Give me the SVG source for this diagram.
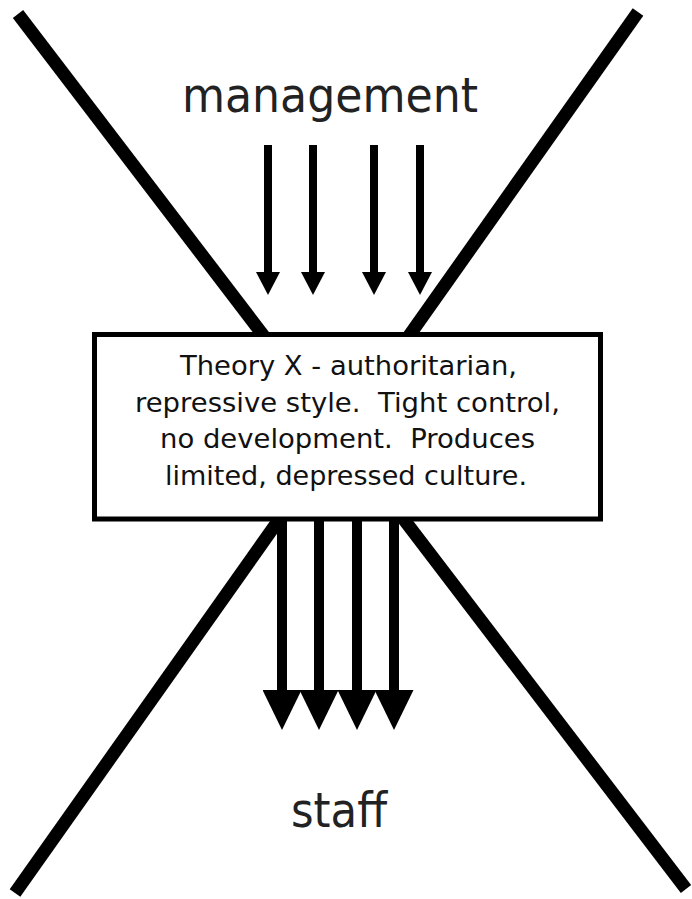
<svg xmlns="http://www.w3.org/2000/svg" width="692" height="899" viewBox="0 0 692 899">
  <style>
    .cross { stroke: #000; stroke-width: 13; stroke-linecap: butt; fill: none; }
    .box { fill: #fff; stroke: #000; stroke-width: 5; }
    .label { font-family: "DejaVu Sans", Verdana, sans-serif; fill: #000; text-anchor: middle; }
    .big { font-size: 48px; fill: #222; }
    .body { font-size: 27px; fill: #111; }
    .shaft-s { stroke: #000; stroke-width: 8; fill: none; }
    .shaft-l { stroke: #000; stroke-width: 10; fill: none; }
  </style>
  <defs>
    <marker id="headS" viewBox="0 0 23 24" refX="0" refY="12" markerWidth="23" markerHeight="24" markerUnits="userSpaceOnUse" orient="auto">
      <path d="M0,0 L23,12 L0,24 Z" fill="#000"/>
    </marker>
    <marker id="headL" viewBox="0 0 40 39" refX="0" refY="19.5" markerWidth="40" markerHeight="39" markerUnits="userSpaceOnUse" orient="auto">
      <path d="M0,0 L40,19.5 L0,39 Z" fill="#000"/>
    </marker>
  </defs>

  <g id="cross">
    <line class="cross" x1="18" y1="14" x2="686" y2="889"/>
    <line class="cross" x1="638" y1="12" x2="15" y2="893"/>
  </g>

  <g id="management">
    <text class="label big" x="330" y="112" textLength="296" lengthAdjust="spacingAndGlyphs">management</text>
  </g>

  <g id="theory-x">
    <rect class="box" x="94.5" y="334.5" width="506" height="184.5"/>
    <text class="label body" xml:space="preserve" x="348.5" y="375" textLength="337" lengthAdjust="spacingAndGlyphs">Theory X - authoritarian,</text>
    <text class="label body" xml:space="preserve" x="347.5" y="412" textLength="425" lengthAdjust="spacingAndGlyphs">repressive style.  Tight control,</text>
    <text class="label body" xml:space="preserve" x="347.5" y="448" textLength="375" lengthAdjust="spacingAndGlyphs">no development.  Produces</text>
    <text class="label body" xml:space="preserve" x="346" y="485" textLength="362" lengthAdjust="spacingAndGlyphs">limited, depressed culture.</text>
  </g>

  <g id="staff">
    <text class="label big" x="339" y="827" textLength="96" lengthAdjust="spacingAndGlyphs">staff</text>
  </g>

  <g id="connectors">
    <line class="shaft-s" x1="268" y1="145" x2="268" y2="272" marker-end="url(#headS)"/>
    <line class="shaft-s" x1="313" y1="145" x2="313" y2="272" marker-end="url(#headS)"/>
    <line class="shaft-s" x1="374" y1="145" x2="374" y2="272" marker-end="url(#headS)"/>
    <line class="shaft-s" x1="420" y1="145" x2="420" y2="272" marker-end="url(#headS)"/>
    <line class="shaft-l" x1="282" y1="519" x2="282" y2="690" marker-end="url(#headL)"/>
    <line class="shaft-l" x1="319" y1="519" x2="319" y2="690" marker-end="url(#headL)"/>
    <line class="shaft-l" x1="357" y1="519" x2="357" y2="690" marker-end="url(#headL)"/>
    <line class="shaft-l" x1="394" y1="519" x2="394" y2="690" marker-end="url(#headL)"/>
  </g>
</svg>
